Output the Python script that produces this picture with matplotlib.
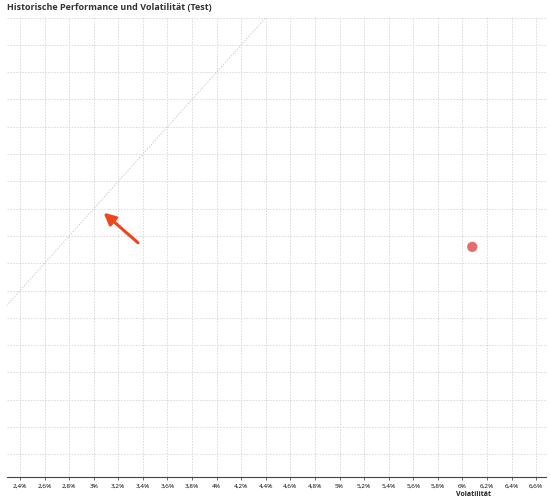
import matplotlib
matplotlib.use("Agg")
import matplotlib.pyplot as plt
import numpy as np

plt.rcParams['font.family'] = ['Open Sans', 'DejaVu Sans']

title = "Historische Performance und Volatilität (Test)"
x_label = "Volatilität"

# data (percent)
point_vol = [6.08]
point_perf = [2.72]
diag_x = [2.29, 4.4]
diag_y = [2.29, 4.4]
arrow_tip = (3.08, 2.97)
arrow_tail = (3.36, 2.75)
x_ticks = [2.4, 2.6, 2.8, 3.0, 3.2, 3.4, 3.6, 3.8, 4.0, 4.2, 4.4, 4.6, 4.8,
           5.0, 5.2, 5.4, 5.6, 5.8, 6.0, 6.2, 6.4, 6.6]
y_grid = [1.2, 1.4, 1.6, 1.8, 2.0, 2.2, 2.4, 2.6, 2.8, 3.0, 3.2, 3.4, 3.6,
          3.8, 4.0, 4.2, 4.4]
x_range = (2.294, 6.68)
y_range = (1.034, 4.404)

def fmt(v):
    s = ("%.1f" % v).rstrip('0').rstrip('.')
    return s.replace('.', ',') + '%'

fig = plt.figure(figsize=(5.5, 5.0), dpi=100)
ax = fig.add_axes([7/550, 23/500, 539/550, 460/500])

ax.set_xlim(*x_range)
ax.set_ylim(*y_range)
ax.set_xticks(x_ticks)
ax.set_xticklabels([fmt(v) for v in x_ticks], fontsize=4.6)
ax.set_yticks(y_grid)
ax.tick_params(axis='y', left=False, labelleft=False)
ax.tick_params(axis='x', length=2.5, width=0.6, color='#555555', pad=2.5)
ax.grid(True, color='#d8d8d8', linestyle=(0, (1.5, 1.5)), linewidth=0.7)
ax.set_axisbelow(True)
for s in ['top', 'right', 'left']:
    ax.spines[s].set_visible(False)
ax.spines['bottom'].set_color('#444444')
ax.spines['bottom'].set_linewidth(0.8)

ax.plot(diag_x, diag_y, color='#cccccc', linestyle=(0, (1.5, 1.5)), linewidth=0.7)
ax.scatter(point_vol, point_perf, s=55, color='#e05555', alpha=0.85, zorder=3, edgecolors='none')
ax.annotate('', xy=arrow_tip, xytext=arrow_tail,
            arrowprops=dict(arrowstyle='-|>,head_length=0.7,head_width=0.35',
                            color='#f0441c', lw=2.2, shrinkA=0, shrinkB=0))

fig.text(7/550, 1 - 7/500, title, fontsize=6.5, fontweight='bold', color='#333333',
         ha='left', va='center')
fig.text(473/550, 1 - 495/500, x_label, fontsize=5, fontweight='bold', color='#222222',
         ha='center', va='center')

fig.savefig('out.png', dpi=100)
